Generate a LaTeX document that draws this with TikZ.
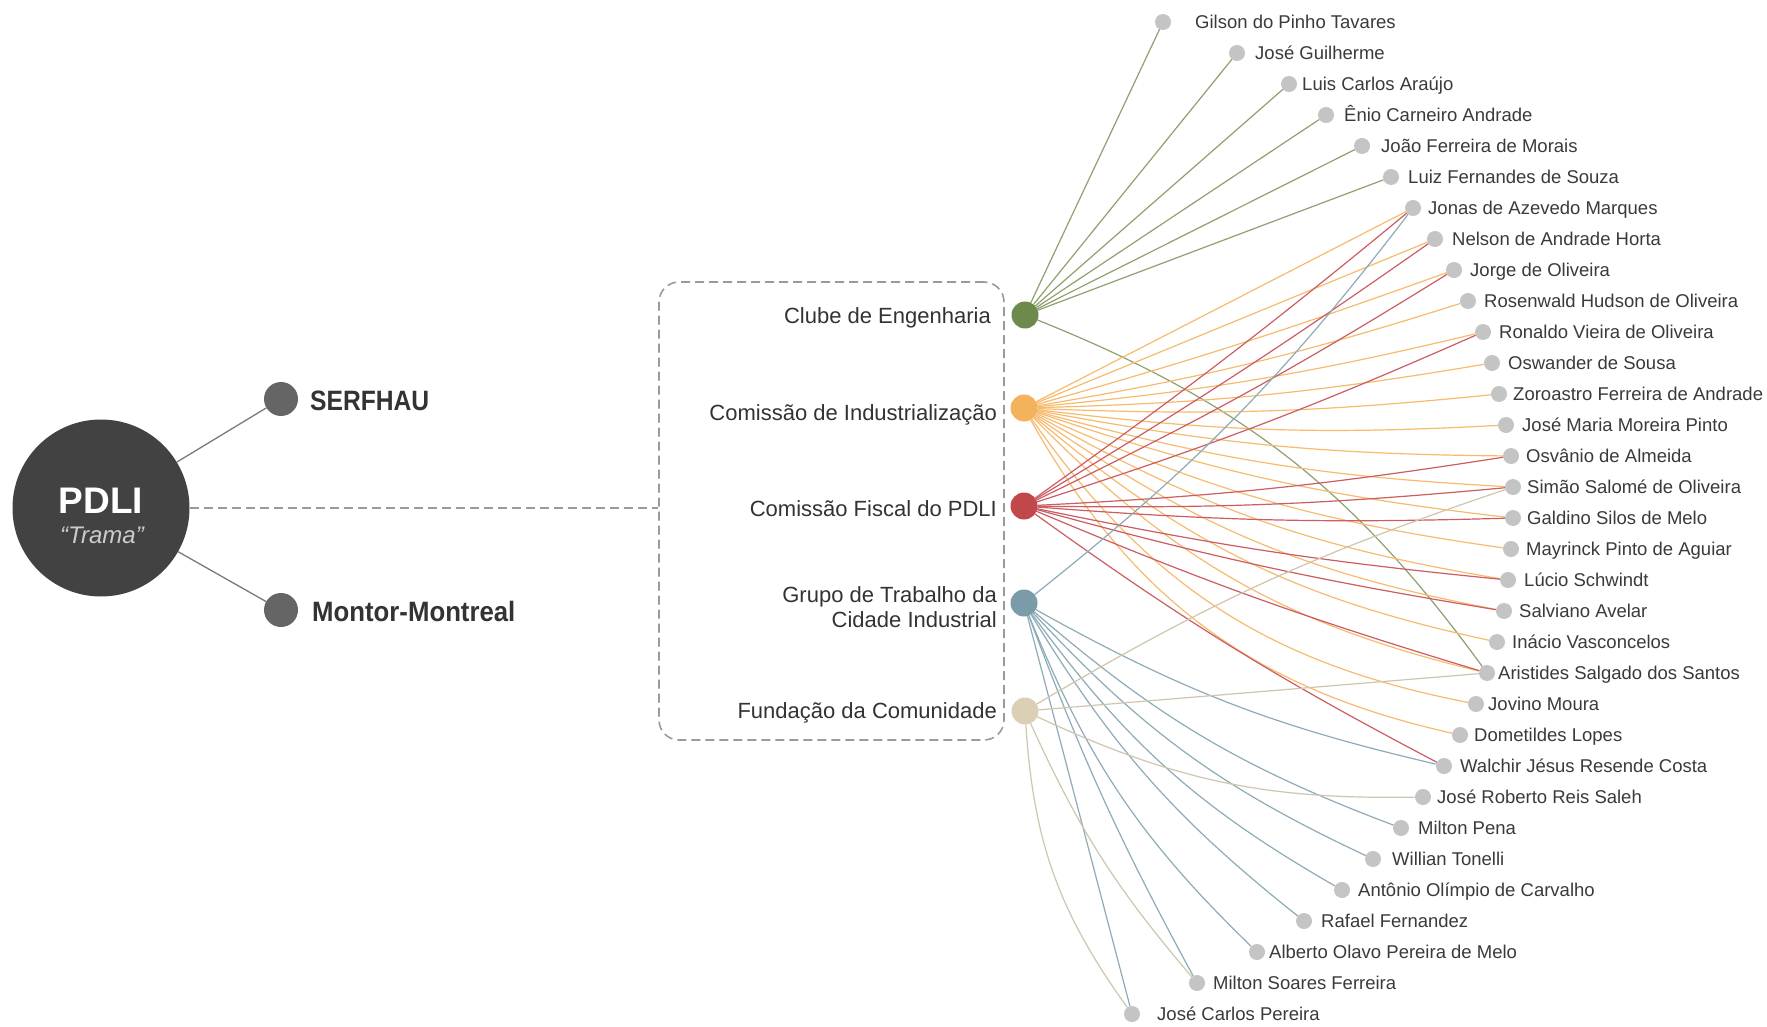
\documentclass[tikz,border=0pt]{standalone}
\usepackage{fontspec}
\setmainfont{Liberation Sans}
\usetikzlibrary{backgrounds}
\definecolor{pdlic}{HTML}{424242}
\definecolor{sdotc}{HTML}{656565}
\definecolor{txt}{HTML}{333333}
\definecolor{ntxt}{HTML}{3A3A3A}
\definecolor{glinec}{HTML}{7A7A7A}
\definecolor{dashc}{HTML}{9A9A9A}
\definecolor{pdotc}{HTML}{C4C4C4}
\definecolor{cclube}{HTML}{6D8A4C}
\definecolor{cind}{HTML}{F3B25C}
\definecolor{cfis}{HTML}{C0474A}
\definecolor{cgru}{HTML}{7C9BA9}
\definecolor{cfun}{HTML}{DBD0B5}
\definecolor{eclube}{HTML}{8EA16F}
\definecolor{eind}{HTML}{F7BB6E}
\definecolor{efis}{HTML}{CC5D62}
\definecolor{egru}{HTML}{8EABB8}
\definecolor{efun}{HTML}{CFC6AE}
\begin{document}
\begin{tikzpicture}[x=1pt,y=-1pt,
  pdot/.style={circle,fill=pdotc,minimum size=16pt,inner sep=0pt,outer sep=0pt},
  pname/.style={anchor=base west,inner sep=0pt,text=ntxt,font=\fontsize{18.5}{22}\selectfont},
  gdot/.style={circle,minimum size=27pt,inner sep=0pt,outer sep=0pt},
  glabel/.style={inner sep=0pt,text=txt,font=\fontsize{22}{25}\selectfont,align=right},
  sdot/.style={circle,fill=sdotc,minimum size=34pt,inner sep=0pt,outer sep=0pt},
  slabel/.style={anchor=base west,inner sep=0pt,text=txt,font=\bfseries\fontsize{28}{30}\selectfont},
  gline/.style={draw=glinec,line width=1.3pt},
  dline/.style={draw=dashc,line width=1.6pt,dash pattern=on 9pt off 5pt},
  lnk/.style={line width=1.2pt},
  lclube/.style={lnk,draw=eclube},
  lind/.style={lnk,draw=eind},
  lfis/.style={lnk,draw=efis},
  lgru/.style={lnk,draw=egru},
  lfun/.style={lnk,draw=efun}
]
\useasboundingbox (0,0) rectangle (1767,1027);

% PDLI hub
\node[circle,fill=pdlic,minimum size=177pt,inner sep=0pt] (pdli) at (101,508) {};
\node[anchor=base,inner sep=0pt,text=white,font=\bfseries\fontsize{37}{39}\selectfont] (pdlit) at (101,513) {PDLI};
\node[anchor=base,inner sep=0pt,text=black!20,font=\itshape\fontsize{24}{26}\selectfont] (trama) at (102,543) {“Trama”};

% SERFHAU / Montor
\node[sdot] (serf) at (281,399) {};
\node[sdot] (mont) at (281,610) {};
\node[slabel] (serft) at (310,410) {\scalebox{0.88}[1]{SERFHAU}};
\node[slabel] (montt) at (312,621) {\scalebox{0.92}[1]{Montor-Montreal}};
\draw[gline] (pdli) -- (serf);
\draw[gline] (pdli) -- (mont);

% dashed box
\node[draw=dashc,line width=1.6pt,dash pattern=on 9pt off 5pt,rounded corners=20pt,
      minimum width=345pt,minimum height=458pt,inner sep=0pt] (box) at (831.5,511) {};
\draw[dline] (pdli.east) -- (box.west |- pdli.east);

% group dots and labels
\node[gdot,fill=cclube] (cl) at (1025,315) {};
\node[gdot,fill=cind] (in) at (1024,408) {};
\node[gdot,fill=cfis] (fi) at (1024,506) {};
\node[gdot,fill=cgru] (gr) at (1024,603) {};
\node[gdot,fill=cfun] (fu) at (1025,711) {};
\node[glabel,anchor=base east] (clt) at (991,323) {Clube de Engenharia};
\node[glabel,anchor=base east] (int) at (997,420) {Comissão de Industrialização};
\node[glabel,anchor=base east] (fit) at (997,516) {Comissão Fiscal do PDLI};
\node[glabel,anchor=east] (grt) at (997,607) {Grupo de Trabalho da\\Cidade Industrial};
\node[glabel,anchor=base east] (fut) at (997,718) {Fundação da Comunidade};

% people
\foreach \i/\px/\tx/\nm in {
0/1163/1195/Gilson do Pinho Tavares,
1/1237/1255/José Guilherme,
2/1289/1302/Luis Carlos Araújo,
3/1326/1344/Ênio Carneiro Andrade,
4/1362/1381/João Ferreira de Morais,
5/1391/1408/Luiz Fernandes de Souza,
6/1413/1428/Jonas de Azevedo Marques,
7/1435/1452/Nelson de Andrade Horta,
8/1454/1470/Jorge de Oliveira,
9/1468/1484/Rosenwald Hudson de Oliveira,
10/1483/1499/Ronaldo Vieira de Oliveira,
11/1492/1508/Oswander de Sousa,
12/1499/1513/Zoroastro Ferreira de Andrade,
13/1506/1522/José Maria Moreira Pinto,
14/1511/1526/Osvânio de Almeida,
15/1513/1527/Simão Salomé de Oliveira,
16/1513/1527/Galdino Silos de Melo,
17/1511/1526/Mayrinck Pinto de Aguiar,
18/1508/1524/Lúcio Schwindt,
19/1504/1519/Salviano Avelar,
20/1497/1512/Inácio Vasconcelos,
21/1487/1498/Aristides Salgado dos Santos,
22/1476/1488/Jovino Moura,
23/1460/1474/Dometildes Lopes,
24/1444/1460/Walchir Jésus Resende Costa,
25/1423/1437/José Roberto Reis Saleh,
26/1401/1418/Milton Pena,
27/1373/1392/Willian Tonelli,
28/1342/1358/Antônio Olímpio de Carvalho,
29/1304/1321/Rafael Fernandez,
30/1257/1269/Alberto Olavo Pereira de Melo,
31/1197/1213/Milton Soares Ferreira,
32/1132/1157/José Carlos Pereira}{
  \node[pdot] (p\i) at (\px,{22+31*\i}) {};
  \node[pname] (n\i) at (\tx,{28.5+31*\i}) {\nm};
}

% links
\begin{pgfonlayer}{background}
\fill[white] (0,0) rectangle (1767,1027);
\foreach \t/\b in {0/0,1/0,2/0,3/0,4/0,5/0,21/-16}
  \draw[lclube] (cl) to[bend right=\b] (p\t);
\foreach \t/\b in {6/0,7/0,8/2,9/4,10/4,11/4,12/4,13/5,14/5,15/6,16/6,17/8,18/10,19/12,20/14,21/16,22/22,23/24}
  \draw[lind] (in) to[bend right=\b] (p\t);
\foreach \t/\b in {6/2,7/2,8/3,10/3,14/3,15/3,16/3,18/3,19/3,21/3,24/4}
  \draw[lfis] (fi) to[bend right=\b] (p\t);
\foreach \t/\b in {6/7,24/8,26/10,27/11,28/12,29/10,30/12,31/4,32/0}
  \draw[lgru] (gr) to[bend right=\b] (p\t);
\foreach \t/\b in {15/-6,21/0,25/13,31/8,32/16}
  \draw[lfun] (fu) to[bend right=\b] (p\t);
\end{pgfonlayer}
\end{tikzpicture}
\end{document}
